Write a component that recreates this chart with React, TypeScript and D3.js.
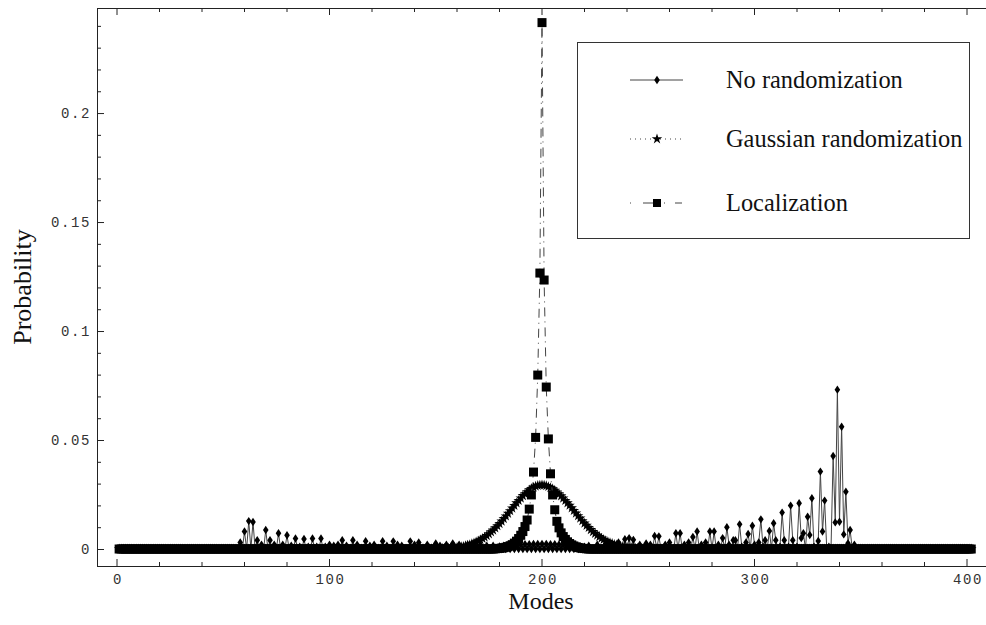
import React from 'react';
import * as d3 from 'd3';

// modes along the lattice
const modes = d3.range(1, 403);

// No randomization: spikes (mode, probability); zero elsewhere
const noRandModes = [
  58, 60, 62, 64, 66, 68, 70, 72, 74, 76, 78, 80, 82, 84, 86, 88, 90, 92, 94, 96, 98,
  100, 102, 104, 106, 108, 111, 113, 117, 119, 121, 125, 127, 130, 132, 134, 138, 140, 142,
  146, 150, 152, 155, 158, 161, 165, 168, 171, 174, 177,
  180, 182, 184, 186, 188, 190, 192, 194, 196, 198, 200, 202, 204, 206, 208, 210, 212, 214, 216, 218, 220,
  222, 226, 230, 234, 236, 239, 241, 243, 246, 249, 251, 253, 255, 258, 260, 263, 265, 267, 269,
  271, 273, 275, 277, 279, 281, 283, 285, 287, 288, 290, 291, 293, 294, 296, 297, 299, 300,
  302, 303, 304, 305, 307, 309, 310, 312, 313, 314, 316, 317, 318, 320, 321, 322, 323, 325,
  326, 327, 328, 330, 331, 332, 333, 335, 337, 338, 339, 340, 341, 342, 343, 344, 345, 347,
];
const noRandValues = [
  0.003, 0.008, 0.0128, 0.0124, 0.004, 0.002, 0.0087, 0.004, 0.002, 0.0072, 0.002, 0.0063, 0.0015, 0.0048, 0.001, 0.0046, 0.001, 0.0048, 0.001, 0.0048, 0.001,
  0.002, 0.0015, 0.002, 0.004, 0.0015, 0.004, 0.002, 0.0036, 0.0015, 0.002, 0.0036, 0.0015, 0.0035, 0.002, 0.0015, 0.0035, 0.002, 0.003,
  0.002, 0.0025, 0.0015, 0.002, 0.0025, 0.002, 0.002, 0.0015, 0.002, 0.0015, 0.0015,
  0.0012, 0.0015, 0.0017, 0.0019, 0.002, 0.0021, 0.0022, 0.0022, 0.0023, 0.0023, 0.0023, 0.0023, 0.0022, 0.0022, 0.0021, 0.002, 0.0019, 0.0017, 0.0015, 0.0012, 0.001,
  0.0015, 0.002, 0.0025, 0.002, 0.003, 0.0045, 0.005, 0.0042, 0.002, 0.0025, 0.002, 0.006, 0.0058, 0.002, 0.003, 0.0072, 0.0072, 0.002, 0.003,
  0.0055, 0.008, 0.002, 0.003, 0.008, 0.008, 0.002, 0.005, 0.01, 0.002, 0.004, 0.004, 0.0113, 0.001, 0.003, 0.0069, 0.0107, 0.002,
  0.003, 0.0136, 0.001, 0.004, 0.0083, 0.0118, 0.004, 0.001, 0.0167, 0.004, 0.001, 0.0199, 0.004, 0.001, 0.021, 0.005, 0.0072, 0.0148,
  0.0064, 0.0233, 0.001, 0.0037, 0.0355, 0.008, 0.0222, 0.001, 0.0427, 0.0122, 0.0731, 0.0125, 0.0561, 0.0067, 0.0263, 0.0026, 0.0087, 0.002,
];

// Gaussian randomization: modes 140..260, zero elsewhere
const gaussStart = 140;
const gaussValues = [
  0.0001, 0.0001, 0.0001, 0.0001, 0.0001, 0.0001, 0.0001, 0.0001, 0.0001, 0.0001,
  0.0002, 0.0002, 0.0002, 0.0003, 0.0003, 0.0003, 0.0004, 0.0004, 0.0005, 0.0006,
  0.0007, 0.0009, 0.001, 0.0012, 0.0015, 0.0017, 0.002, 0.0024, 0.0027, 0.0032,
  0.0037, 0.0042, 0.0048, 0.0054, 0.0061, 0.0069, 0.0078, 0.0086, 0.0096, 0.0106,
  0.0116, 0.0127, 0.0139, 0.0151, 0.0163, 0.0175, 0.0187, 0.0199, 0.0211, 0.0222,
  0.0233, 0.0244, 0.0253, 0.0262, 0.0271, 0.0277, 0.0283, 0.0288, 0.0291, 0.0293,
  0.0294,
  0.0293, 0.029, 0.0286, 0.0281, 0.0276, 0.0269, 0.0261, 0.0252, 0.0243, 0.0233,
  0.0222, 0.0211, 0.02, 0.0188, 0.0176, 0.0164, 0.0152, 0.0141, 0.0129, 0.0118,
  0.0108, 0.0098, 0.0088, 0.0079, 0.0071, 0.0063, 0.0056, 0.0049, 0.0043, 0.0038,
  0.0033, 0.0029, 0.0025, 0.0021, 0.0018, 0.0016, 0.0013, 0.0011, 0.001, 0.0008,
  0.0007, 0.0006, 0.0005, 0.0004, 0.0004, 0.0003, 0.0003, 0.0002, 0.0002, 0.0002,
  0.0001, 0.0001, 0.0001, 0.0001, 0.0001, 0.0001, 0.0001, 0.0001, 0.0001, 0.0001,
];

// Localization: modes 178..221, zero elsewhere
const locStart = 178;
const locValues = [
  0.0001, 0.0002, 0.0003, 0.0004, 0.0006, 0.0008, 0.0011, 0.0015, 0.002, 0.0027,
  0.0036, 0.0048, 0.0063, 0.008, 0.0103, 0.0133, 0.0183, 0.0248, 0.0353, 0.0512,
  0.0798, 0.1266, 0.2415, 0.1234, 0.0743, 0.0505, 0.0345, 0.0248, 0.018, 0.0127,
  0.0097, 0.0074, 0.0057, 0.0044, 0.0033, 0.0025, 0.0019, 0.0014, 0.001, 0.0007,
  0.0005, 0.0003, 0.0002, 0.0001,
];

const xTicks = [0, 100, 200, 300, 400];
const yTicks = [0, 0.05, 0.1, 0.15, 0.2];
const yTickLabels = ['0', '0.05', '0.1', '0.15', '0.2'];
const legendLabels = ['No randomization', 'Gaussian randomization', 'Localization'];

const W = 986;
const H = 625;
const frameLeft = 97;
const frameTop = 8;
const frameBottom = 566;

const seriesFrom = (start: number, vals: number[]) =>
  modes.map((m) => ({ m, v: m >= start && m < start + vals.length ? vals[m - start] : 0 }));

const noRand = modes.map((m) => {
  const i = noRandModes.indexOf(m);
  return { m, v: i >= 0 ? noRandValues[i] : 0 };
});
const gauss = seriesFrom(gaussStart, gaussValues);
const loc = seriesFrom(locStart, locValues);

const diamond = 'M0,-4.2L2.8,0L0,4.2L-2.8,0Z';
const star = d3.symbol(d3.symbolStar, 34)() as string;

export default function App() {
  const x = d3.scaleLinear().domain([0, 400]).range([117, 967]);
  const y = d3.scaleLinear().domain([0, 0.2482]).range([549, 8]);

  const line = d3
    .line<{ m: number; v: number }>()
    .x((d) => x(d.m))
    .y((d) => y(d.v));

  const xMinor = d3.range(0, 401, 20).filter((t) => t % 100 !== 0);
  const yMinor = d3.range(1, 25).map((i) => i / 100).filter((_, i) => (i + 1) % 5 !== 0);

  const tickFont = {
    fontFamily: 'Liberation Mono, Courier New, monospace',
    fontSize: 14,
    fill: '#333',
    letterSpacing: 1.6,
  };
  const serif = 'Liberation Serif, Times New Roman, serif';

  return (
    <svg width={W} height={H} style={{ position: 'absolute', left: 0, top: 0, background: '#fff' }}>
      {/* frame */}
      <g stroke="#222" strokeWidth={1} fill="none">
        <line x1={frameLeft} x2={W} y1={frameTop + 0.5} y2={frameTop + 0.5} />
        <line x1={frameLeft} x2={W} y1={frameBottom + 0.5} y2={frameBottom + 0.5} />
        <line x1={frameLeft + 0.5} x2={frameLeft + 0.5} y1={frameTop} y2={frameBottom + 1} />
      </g>
      {/* ticks */}
      <g stroke="#222" strokeWidth={1}>
        {xTicks.map((t) => (
          <g key={'xt' + t}>
            <line x1={x(t)} x2={x(t)} y1={frameBottom} y2={frameBottom - 7} />
            <line x1={x(t)} x2={x(t)} y1={frameTop} y2={frameTop + 7} />
          </g>
        ))}
        {xMinor.map((t) => (
          <g key={'xm' + t}>
            <line x1={x(t)} x2={x(t)} y1={frameBottom} y2={frameBottom - 4} />
            <line x1={x(t)} x2={x(t)} y1={frameTop} y2={frameTop + 4} />
          </g>
        ))}
        {yTicks.map((t) => (
          <line key={'yt' + t} x1={frameLeft} x2={frameLeft + 7} y1={y(t) + 0.5} y2={y(t) + 0.5} />
        ))}
        {yMinor.map((t) => (
          <line key={'ym' + t} x1={frameLeft} x2={frameLeft + 4} y1={y(t) + 0.5} y2={y(t) + 0.5} />
        ))}
      </g>
      {/* tick labels */}
      {xTicks.map((t) => (
        <text key={'xl' + t} x={x(t) + 1} y={584} textAnchor="middle" {...tickFont}>
          {t}
        </text>
      ))}
      {yTicks.map((t, i) => (
        <text key={'yl' + t} x={91} y={y(t) + 5} textAnchor="end" {...tickFont}>
          {yTickLabels[i]}
        </text>
      ))}
      {/* axis titles */}
      <text x={541} y={609} textAnchor="middle" fontFamily={serif} fontSize={24} fill="#111">
        Modes
      </text>
      <text
        transform={`translate(31,287) rotate(-90)`}
        textAnchor="middle"
        fontFamily={serif}
        fontSize={26}
        fill="#111"
      >
        Probability
      </text>

      {/* No randomization */}
      <path d={line(noRand) as string} fill="none" stroke="#444" strokeWidth={1} />
      {noRand.map((d) => (
        <path key={'n' + d.m} d={diamond} transform={`translate(${x(d.m)},${y(d.v)})`} fill="#000" />
      ))}
      {/* Gaussian randomization */}
      <path d={line(gauss) as string} fill="none" stroke="#444" strokeWidth={1} strokeDasharray="1,3" />
      {gauss.map((d) => (
        <path key={'g' + d.m} d={star} transform={`translate(${x(d.m)},${y(d.v)})`} fill="#000" />
      ))}
      {/* Localization */}
      <path d={line(loc) as string} fill="none" stroke="#444" strokeWidth={1} strokeDasharray="1,5,9,5" />
      {loc.map((d) => (
        <rect key={'l' + d.m} x={x(d.m) - 4.5} y={y(d.v) - 4.5} width={9} height={9} fill="#000" />
      ))}

      {/* legend */}
      <rect x={577.5} y={42.5} width={392} height={196} fill="#fff" stroke="#333" strokeWidth={1} />
      {legendLabels.map((label, i) => {
        const ly = [80, 139, 203][i];
        return (
          <g key={label}>
            {i === 0 && (
              <>
                <line x1={630} x2={683} y1={ly} y2={ly} stroke="#444" strokeWidth={1} />
                <path d={diamond} transform={`translate(657,${ly})`} fill="#000" />
              </>
            )}
            {i === 1 && (
              <>
                <line x1={630} x2={683} y1={ly} y2={ly} stroke="#444" strokeWidth={1} strokeDasharray="1,4" />
                <path d={star} transform={`translate(657,${ly})`} fill="#000" />
              </>
            )}
            {i === 2 && (
              <>
                <line x1={630} x2={683} y1={ly} y2={ly} stroke="#444" strokeWidth={1} strokeDasharray="1,12,12,9,1,10,7" />
                <rect x={653} y={ly - 4} width={8} height={8} fill="#000" />
              </>
            )}
            <text x={726} y={ly + 8} fontFamily={serif} fontSize={24.4} fill="#111">
              {label}
            </text>
          </g>
        );
      })}
    </svg>
  );
}
